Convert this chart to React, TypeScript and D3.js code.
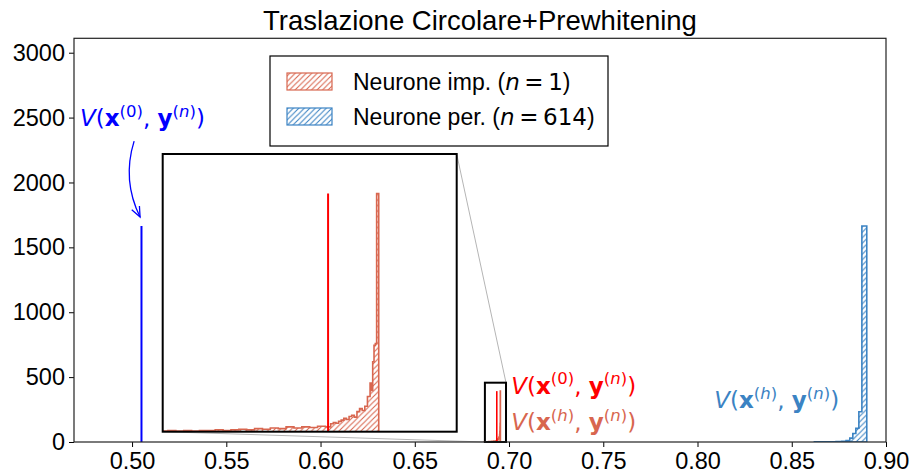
import { useEffect, useRef } from 'react';
import * as d3 from 'd3';

// axis ticks
const xTicks = [0.5, 0.55, 0.6, 0.65, 0.7, 0.75, 0.8, 0.85, 0.9];
const yTicks = [0, 500, 1000, 1500, 2000, 2500, 3000];

// Neurone imp. (n = 1): histogram of V(x^(h), y^(n))
const impEdges = [
  0.6868, 0.6871, 0.6874, 0.6877, 0.688, 0.6883, 0.6886, 0.6889, 0.6892, 0.6895,
  0.6898, 0.6901, 0.6904, 0.6907, 0.691, 0.6913, 0.6916, 0.6919, 0.6922, 0.6925,
  0.6928, 0.6931, 0.6934, 0.6936, 0.6937, 0.6938, 0.6939, 0.694, 0.6941, 0.6942,
  0.6943, 0.6944, 0.6945, 0.6946, 0.6947, 0.6948, 0.6949, 0.695, 0.6951, 0.69515,
  0.6952, 0.69525, 0.6953, 0.69535, 0.69543,
];
const impCounts = [
  1, 1, 2, 1, 2, 1, 2, 2, 3, 2,
  3, 4, 3, 5, 4, 6, 5, 8, 6, 8,
  7, 9, 8, 13, 15, 14, 17, 19, 22, 20,
  25, 27, 24, 33, 38, 35, 42, 58, 80, 68,
  115, 142, 145, 392,
];
const impObserved = 0.6935; // V(x^(0), y^(n))

// Neurone per. (n = 614)
const perEdges = [0.862, 0.868, 0.8735, 0.8765, 0.8788, 0.8808, 0.8824, 0.884, 0.8856, 0.8872, 0.8898];
const perCounts = [1, 2, 3, 6, 12, 30, 66, 106, 233, 1665];
const perObserved = 0.505;

// zoomed region
const insetX = [0.6872, 0.6984];
const insetY = [0, 457];

// annotation anchors (data coords)
const noteBlue0 = [0.4724, 2435];
const noteRed0 = [0.7012, 370];
const noteImpH = [0.7012, 92];
const notePerH = [0.8089, 262];
const arrowFrom = [0.5011, 2319];
const arrowTo = [0.50425, 1734];

const C_IMP = '#d8664f';
const C_PER = '#3b83c3';

const W = 909;
const H = 474;
const margin = { left: 74, right: 23, top: 38.3, bottom: 32 };
const inset = { x0: 162.7, x1: 456.7, y0: 154, y1: 431.7 };

function stepPath(edges, counts, x, y) {
  const p = d3.path();
  p.moveTo(x(edges[0]), y(0));
  counts.forEach((c, i) => {
    p.lineTo(x(edges[i]), y(c));
    p.lineTo(x(edges[i + 1]), y(c));
  });
  p.lineTo(x(edges[edges.length - 1]), y(0));
  p.closePath();
  return p.toString();
}

function mathLabel(g, px, py, color, supX) {
  const big = '23px';
  const small = '16.5px';
  const t = g.append('text')
    .attr('x', px).attr('y', py)
    .attr('fill', color)
    .style('font-family', 'DejaVu Sans')
    .style('font-size', big);
  t.append('tspan').style('font-style', 'italic').text('V');
  t.append('tspan').text('(');
  t.append('tspan').style('font-weight', 'bold').text('x');
  t.append('tspan').attr('dy', -9.5).style('font-size', small).text('(');
  t.append('tspan').style('font-size', small).style('font-style', supX === '0' ? 'normal' : 'italic').text(supX);
  t.append('tspan').style('font-size', small).text(')');
  t.append('tspan').attr('dy', 9.5).text(', ');
  t.append('tspan').style('font-weight', 'bold').text('y');
  t.append('tspan').attr('dy', -9.5).style('font-size', small).text('(');
  t.append('tspan').style('font-size', small).style('font-style', 'italic').text('n');
  t.append('tspan').style('font-size', small).text(')');
  t.append('tspan').attr('dy', 9.5).text(')');
}

export default function App() {
  const svgRef = useRef(null);

  useEffect(() => {
    const svg = d3.select(svgRef.current);
    svg.selectAll('*').remove();

    const x = d3.scaleLinear().domain([0.4692, 0.9]).range([margin.left, W - margin.right]);
    const y = d3.scaleLinear().domain([0, 3111]).range([H - margin.bottom, margin.top]);

    // hatch patterns
    const defs = svg.append('defs');
    [['hImp', C_IMP], ['hPer', C_PER]].forEach(([id, col]) => {
      defs.append('pattern')
        .attr('id', id)
        .attr('patternUnits', 'userSpaceOnUse')
        .attr('width', 5.5).attr('height', 5.5)
        .append('path')
        .attr('d', 'M-1,1 l2,-2 M0,5.5 l5.5,-5.5 M4.5,6.5 l2,-2')
        .attr('fill', 'none')
        .style('stroke', col)
        .style('stroke-width', 1.1);
    });
    defs.append('clipPath').attr('id', 'clipMain')
      .append('rect')
      .attr('x', margin.left).attr('y', margin.top)
      .attr('width', W - margin.left - margin.right)
      .attr('height', H - margin.top - margin.bottom);
    defs.append('clipPath').attr('id', 'clipInset')
      .append('rect')
      .attr('x', inset.x0).attr('y', inset.y0)
      .attr('width', inset.x1 - inset.x0).attr('height', inset.y1 - inset.y0);

    // title
    svg.append('text')
      .attr('x', (margin.left + W - margin.right) / 2)
      .attr('y', 30)
      .attr('text-anchor', 'middle')
      .style('font-family', 'Liberation Sans')
      .style('font-size', '27.5px')
      .text('Traslazione Circolare+Prewhitening');

    const plot = svg.append('g').attr('clip-path', 'url(#clipMain)');

    // histograms
    plot.append('path')
      .attr('d', stepPath(perEdges, perCounts, x, y))
      .attr('fill', 'url(#hPer)')
      .attr('stroke', C_PER)
      .attr('stroke-width', 1.6);
    plot.append('path')
      .attr('d', stepPath(impEdges, impCounts, x, y))
      .attr('fill', 'url(#hImp)')
      .attr('stroke', C_IMP)
      .attr('stroke-width', 1.6);

    // observed values
    plot.append('line')
      .attr('x1', x(perObserved)).attr('x2', x(perObserved))
      .attr('y1', y(0)).attr('y2', y(d3.max(perCounts)))
      .attr('stroke', '#0000ff').attr('stroke-width', 2);
    plot.append('line')
      .attr('x1', x(impObserved)).attr('x2', x(impObserved))
      .attr('y1', y(0)).attr('y2', y(d3.max(impCounts)))
      .attr('stroke', '#ff0000').attr('stroke-width', 1.6);

    // zoom box + connectors
    svg.append('line')
      .attr('x1', inset.x1).attr('y1', inset.y0)
      .attr('x2', x(insetX[1])).attr('y2', y(insetY[1]))
      .attr('stroke', '#b5b5b5').attr('stroke-width', 1);
    svg.append('line')
      .attr('x1', inset.x0).attr('y1', inset.y1)
      .attr('x2', x(insetX[0])).attr('y2', y(insetY[0]))
      .attr('stroke', '#b5b5b5').attr('stroke-width', 1);
    svg.append('rect')
      .attr('x', x(insetX[0])).attr('y', y(insetY[1]))
      .attr('width', x(insetX[1]) - x(insetX[0]))
      .attr('height', y(insetY[0]) - y(insetY[1]))
      .attr('fill', 'none')
      .attr('stroke', '#000').attr('stroke-width', 2);

    // axes
    const ax = svg.append('g')
      .attr('transform', `translate(0,${H - margin.bottom})`)
      .call(d3.axisBottom(x).tickValues(xTicks).tickFormat(d3.format('.2f')).tickSize(5).tickPadding(5));
    const ay = svg.append('g')
      .attr('transform', `translate(${margin.left},0)`)
      .call(d3.axisLeft(y).tickValues(yTicks).tickSize(5).tickPadding(4).tickFormat(d3.format('d')));
    [ax, ay].forEach(a => {
      a.attr('font-family', 'Liberation Sans').attr('font-size', 23.5);
      a.select('.domain').remove();
      a.selectAll('line').attr('stroke', '#000').attr('stroke-width', 1);
      a.selectAll('text').attr('fill', '#000');
    });
    svg.append('rect')
      .attr('x', margin.left).attr('y', margin.top)
      .attr('width', W - margin.left - margin.right)
      .attr('height', H - margin.top - margin.bottom)
      .attr('fill', 'none')
      .attr('stroke', '#222').attr('stroke-width', 1.2);

    // inset axes
    const ix = d3.scaleLinear().domain(insetX).range([inset.x0, inset.x1]);
    const iy = d3.scaleLinear().domain(insetY).range([inset.y1, inset.y0]);
    svg.append('rect')
      .attr('x', inset.x0).attr('y', inset.y0)
      .attr('width', inset.x1 - inset.x0).attr('height', inset.y1 - inset.y0)
      .attr('fill', '#fff');
    const ig = svg.append('g').attr('clip-path', 'url(#clipInset)');
    ig.append('path')
      .attr('d', stepPath(impEdges, impCounts, ix, iy))
      .attr('fill', 'url(#hImp)')
      .attr('stroke', C_IMP)
      .attr('stroke-width', 1.6);
    ig.append('line')
      .attr('x1', ix(impObserved)).attr('x2', ix(impObserved))
      .attr('y1', iy(0)).attr('y2', iy(d3.max(impCounts)))
      .attr('stroke', '#ff0000').attr('stroke-width', 2);
    svg.append('rect')
      .attr('x', inset.x0).attr('y', inset.y0)
      .attr('width', inset.x1 - inset.x0).attr('height', inset.y1 - inset.y0)
      .attr('fill', 'none')
      .attr('stroke', '#000').attr('stroke-width', 2);

    // legend
    const lg = svg.append('g');
    lg.append('rect')
      .attr('x', 270).attr('y', 56).attr('width', 338).attr('height', 90)
      .attr('fill', '#fff').attr('stroke', '#000').attr('stroke-width', 1.2);
    const items = [
      { label: 'Neurone imp. (', n: '1', fill: 'url(#hImp)', col: C_IMP },
      { label: 'Neurone per. (', n: '614', fill: 'url(#hPer)', col: C_PER },
    ];
    items.forEach((it, i) => {
      const cy = 81.5 + i * 35;
      lg.append('rect')
        .attr('x', 287).attr('y', cy - 8.5).attr('width', 45).attr('height', 17)
        .attr('fill', it.fill).attr('stroke', it.col).attr('stroke-width', 1.2);
      const t = lg.append('text')
        .attr('x', 353).attr('y', cy + 8)
        .style('font-family', 'Liberation Sans')
        .style('font-size', '23px');
      t.append('tspan').text(it.label);
      t.append('tspan').style('font-family', 'DejaVu Sans').style('font-style', 'italic').text('n');
      t.append('tspan').style('font-family', 'DejaVu Sans').text('\u2009=\u2009' + it.n);
      t.append('tspan').text(')');
    });

    // annotations
    mathLabel(svg, x(noteBlue0[0]), y(noteBlue0[1]), '#0000ff', '0');
    mathLabel(svg, x(noteRed0[0]), y(noteRed0[1]), '#ff0000', '0');
    mathLabel(svg, x(noteImpH[0]), y(noteImpH[1]), C_IMP, 'h');
    mathLabel(svg, x(notePerH[0]), y(notePerH[1]), C_PER, 'h');

    // curved arrow
    const p0 = [x(arrowFrom[0]), y(arrowFrom[1])];
    const p1 = [x(arrowTo[0]), y(arrowTo[1])];
    const mx = (p0[0] + p1[0]) / 2;
    const my = (p0[1] + p1[1]) / 2;
    const dx = p1[0] - p0[0];
    const dy = p1[1] - p0[1];
    const rad = 0.2;
    const cx = mx + rad * dy * -1;
    const cyy = my + rad * dx;
    const ap = d3.path();
    ap.moveTo(p0[0], p0[1]);
    ap.quadraticCurveTo(cx, cyy, p1[0], p1[1]);
    svg.append('path').attr('d', ap.toString())
      .attr('fill', 'none').attr('stroke', '#0000ff').attr('stroke-width', 1.3);
    const ang = Math.atan2(p1[1] - cyy, p1[0] - cx);
    const hl = 11;
    const head = d3.path();
    head.moveTo(p1[0] - hl * Math.cos(ang - 0.4), p1[1] - hl * Math.sin(ang - 0.4));
    head.lineTo(p1[0], p1[1]);
    head.lineTo(p1[0] - hl * Math.cos(ang + 0.4), p1[1] - hl * Math.sin(ang + 0.4));
    svg.append('path').attr('d', head.toString())
      .attr('fill', 'none').attr('stroke', '#0000ff').attr('stroke-width', 1.3);
  }, []);

  return (
    <div style={{ position: 'absolute', left: 0, top: 0 }}>
      <svg ref={svgRef} width={W} height={H} style={{ display: 'block', background: '#fff' }}></svg>
    </div>
  );
}
